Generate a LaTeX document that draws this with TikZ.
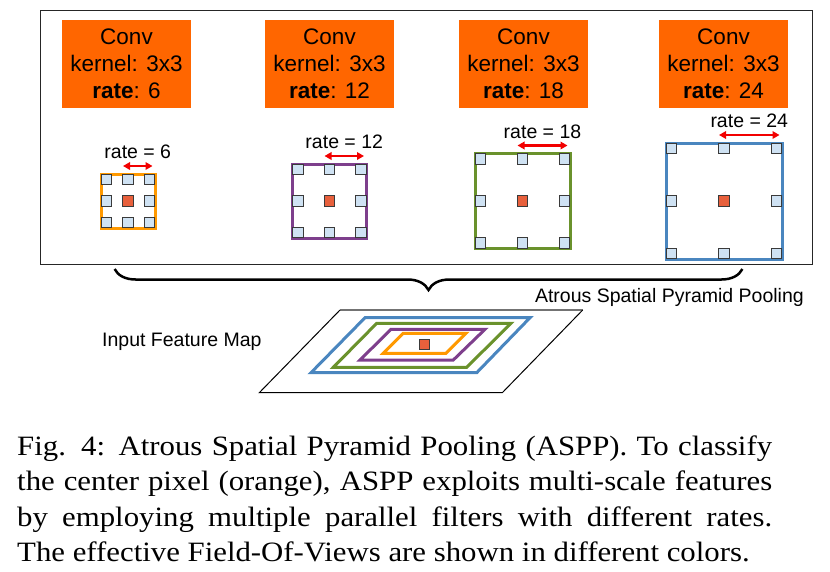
\documentclass[tikz,border=0pt]{standalone}
\usepackage{fontspec}
\newfontfamily\arial{Liberation Sans}
\newfontfamily\capfont[FakeStretch=1.1]{Liberation Serif}
\usetikzlibrary{arrows.meta,decorations.pathreplacing}
\definecolor{convor}{HTML}{FF6600}
\definecolor{kor}{HTML}{FF9900}
\definecolor{kpu}{HTML}{7E3F8C}
\definecolor{kgr}{HTML}{6A922C}
\definecolor{kbl}{HTML}{4A86BF}
\definecolor{sqblue}{HTML}{CFE2F3}
\definecolor{sqred}{HTML}{E8603C}
\definecolor{sqedge}{HTML}{3A3A3A}
\definecolor{arrred}{HTML}{F20000}
\tikzset{
  convbox/.style={fill=convor, minimum width=129, minimum height=88, inner sep=0pt,
    align=center, font=\arial\fontsize{22.5}{27}\selectfont},
  kframe/.style={draw=#1, line width=3pt, inner sep=0pt},
  sqb/.style={draw=sqedge, fill=sqblue, line width=0.9pt, minimum size=10.5, inner sep=0pt},
  sqr/.style={draw=sqedge, fill=sqred, line width=0.9pt, minimum size=10.5, inner sep=0pt},
  ratearrow/.style={draw=arrred, line width=2.2pt, {Triangle[length=7pt,width=7.5pt]}-{Triangle[length=7pt,width=7.5pt]}},
  smalltxt/.style={font=\arial\fontsize{19.5}{23}\selectfont, inner sep=0pt},
  fov/.style={line width=3pt, line join=miter}
}
\begin{document}
\begin{tikzpicture}[x=1pt,y=-1pt]
\useasboundingbox (0,0) rectangle (830,571);
% outer frame
\node[draw=black!85, line width=1.2pt, minimum width=771.6, minimum height=253.6, inner sep=0pt] (frame) at (426.5,137.5) {};
% conv boxes
\node[convbox] (c1) at (126.5,64) {Conv\\kernel: 3x3\\\textbf{rate}: 6};
\node[convbox] (c2) at (329.5,64) {Conv\\kernel: 3x3\\\textbf{rate}: 12};
\node[convbox] (c3) at (523.5,64) {Conv\\kernel: 3x3\\\textbf{rate}: 18};
\node[convbox] (c4) at (723.5,64) {Conv\\kernel: 3x3\\\textbf{rate}: 24};
% kernels
\foreach \i/\x/\h/\c/\r in {1/128/27/kor/6, 2/329.5/37/kpu/12, 3/522.5/47.5/kgr/18, 4/724/58/kbl/24} {
  \node[kframe=\c, minimum size={2*\h}] (k\i) at (\x,201) {};
  \foreach \dx/\dy [count=\n] in {-1/-1,0/-1,1/-1,-1/0,1/0,-1/1,0/1,1/1} {
    \node[sqb] (s\i\n) at ({\x+\dx*(\h-5.5)},{201+\dy*(\h-5.5)}) {};
  }
  \node[sqr] (ctr\i) at (k\i.center) {};
  \coordinate (a\i) at ({\x-5},{201-\h-8});
  \coordinate (b\i) at ({\x+\h-2.5},{201-\h-8});
  \draw[ratearrow] (a\i) -- (b\i);
  \node[smalltxt, anchor=base] (r\i) at ({(2*\x+\h-7.5)/2},{201-\h-15.5}) {rate = \r};
}
% brace
\coordinate (bl) at (114.6,269);
\coordinate (br) at (742.4,269);
\draw[decorate, decoration={brace, amplitude=21pt}, line width=2.5pt] (br) -- (bl);
\node[smalltxt, anchor=base east] (aspp) at (804,302.7) {Atrous Spatial Pyramid Pooling};
\node[smalltxt, anchor=base west] (ifm) at (102,346.5) {Input Feature Map};
% input feature map
\coordinate (m1) at (340,310);
\coordinate (m2) at (582.7,310);
\coordinate (m3) at (502.3,392.7);
\coordinate (m4) at (259.3,392.7);
\draw[black!55, line width=1.2pt] (m1) -- (m2);
\draw[black, line width=1pt] (m2) -- (m3) -- (m4) -- (m1);
\draw[fov, kbl] (365,317.7) -- (530,317.7) -- (476.7,372.7) -- (311,372.7) -- cycle;
\draw[fov, kgr] (376.7,323.3) -- (511,323.3) -- (466.7,367.3) -- (333.3,367.3) -- cycle;
\draw[fov, kpu] (391,329.3) -- (485,329.3) -- (453.3,360) -- (360,360) -- cycle;
\draw[fov, kor] (403.3,333.3) -- (466,333.3) -- (446,353.3) -- (383.3,353.3) -- cycle;
\node[sqr, minimum size=10] (mctr) at (424.2,344.3) {};
% caption
\node[anchor=north west, inner sep=0pt, align=left, font=\capfont\fontsize{28}{35.3}\selectfont] (cap) at (17,435.5) {%
\makebox[755pt][s]{Fig. 4: Atrous Spatial Pyramid Pooling (ASPP). To classify}\\
\makebox[755pt][s]{the center pixel (orange), ASPP exploits multi-scale features}\\
\makebox[755pt][s]{by employing multiple parallel filters with different rates.}\\
\makebox[755pt][l]{The effective Field-Of-Views are shown in different colors.}};
\end{tikzpicture}
\end{document}
